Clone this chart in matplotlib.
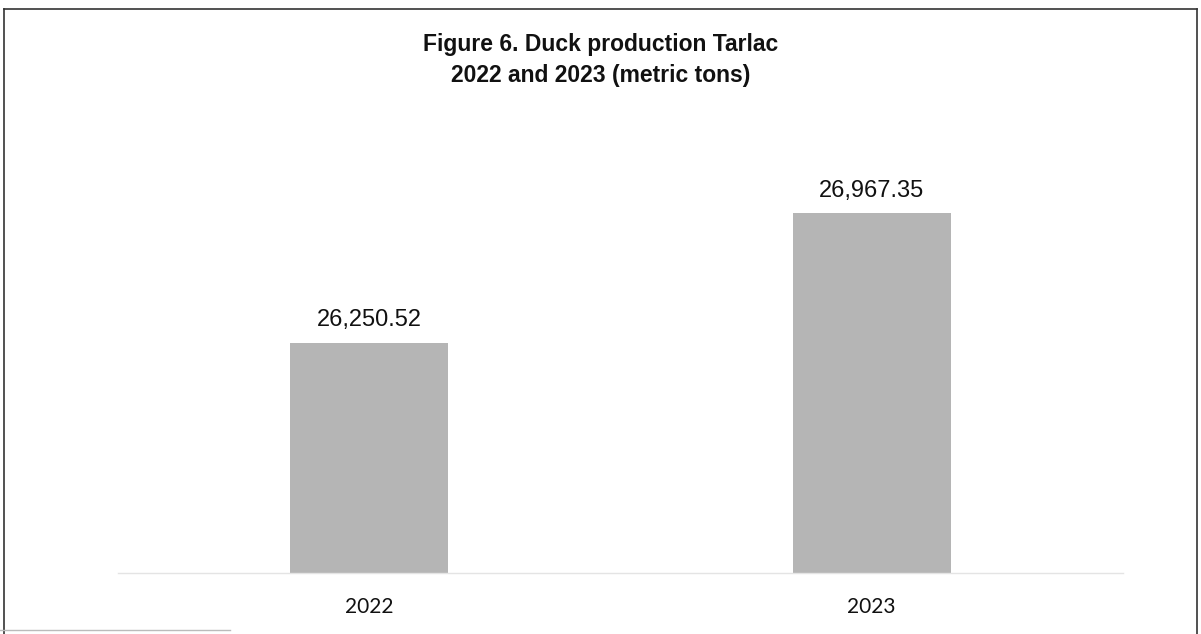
"""Figure 6 -- duck production in Tarlac, 2022 vs 2023 (metric tons)."""

import matplotlib.pyplot as plt
from matplotlib.lines import Line2D

years = ['2022', '2023']
production = [26250.52, 26967.35]

plt.rcParams['font.family'] = ['Liberation Sans', 'DejaVu Sans']

fig = plt.figure(figsize=(12.01, 6.34), dpi=100)
ax = fig.add_axes([0.0983, 0.0962, 0.8367, 0.6814])

pos = range(len(years))
bars = ax.bar(pos, production, width=0.315, color='#b5b5b5', zorder=2)

for b, v in zip(bars, production):
    ax.annotate('{:,.2f}'.format(v),
                xy=(b.get_x() + b.get_width() / 2, v),
                xytext=(0, 8), textcoords='offset points',
                ha='center', va='bottom', fontsize=17, color='#111111')

ax.set_xlim(-0.5, 1.5)
ax.set_ylim(24970, 27370)
ax.set_xticks(list(pos))
ax.set_xticklabels(years, family=['Lato', 'DejaVu Sans'], fontsize=15,
                   color='#111111')
ax.tick_params(axis='x', length=0, pad=17)
ax.set_yticks([])
for side in ['top', 'right', 'left']:
    ax.spines[side].set_visible(False)
ax.spines['bottom'].set_color('#e4e4e4')
ax.spines['bottom'].set_linewidth(1.0)

fig.text(0.5, 0.905, 'Figure 6. Duck production Tarlac\n2022 and 2023 (metric tons)',
         ha='center', va='center', fontsize=16.5, fontweight='bold',
         family=['Liberation Sans Narrow', 'Liberation Sans'],
         linespacing=1.45, color='#111111')

# scanned page frame
W, H = 1201, 634
frame = dict(color='#333333', linewidth=1.2)
fig.add_artist(Line2D([4 / W, 4 / W], [0, 1 - 9 / H], **frame))
fig.add_artist(Line2D([4 / W, 1197 / W], [1 - 9 / H, 1 - 9 / H], **frame))
fig.add_artist(Line2D([1197 / W, 1197 / W], [0, 1 - 9 / H], **frame))
fig.add_artist(Line2D([0, 230 / W], [1 - 630 / H, 1 - 630 / H],
                      color='#bbbbbb', linewidth=1.0))

plt.savefig('out.png', dpi=100)
plt.close()
